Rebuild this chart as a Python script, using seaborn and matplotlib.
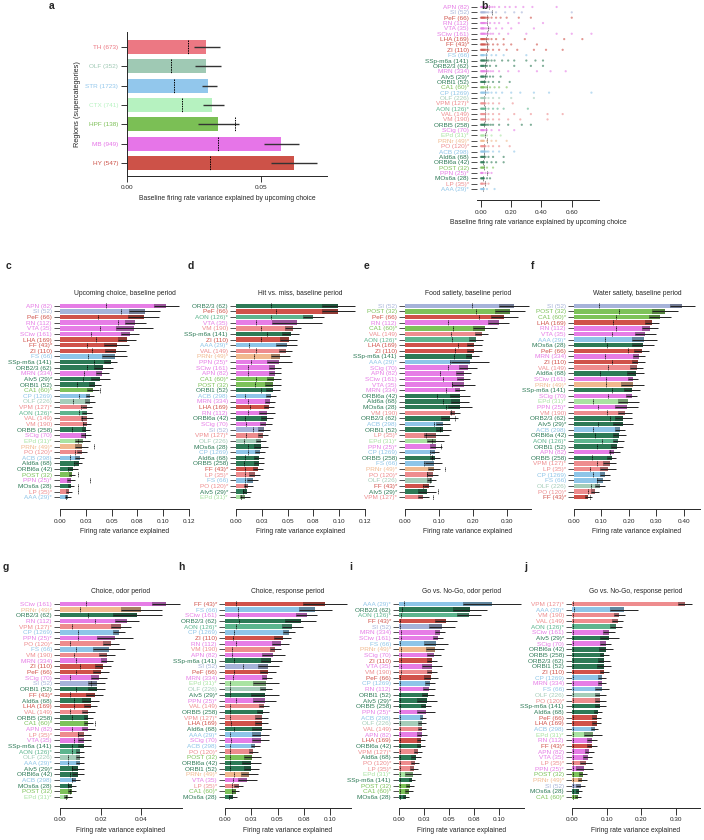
import matplotlib
matplotlib.use('Agg')
import matplotlib.pyplot as plt
import matplotlib.colors as mcolors
import seaborn as sns
import pandas as pd
import numpy as np

# ---- regions (canonical order = panel b / c order) ----
regions = ['APN', 'SI', 'PeF', 'RN', 'VTA', 'SCiw', 'LHA', 'FF', 'ZI', 'FS',
           'SSp-m6a', 'ORB2/3', 'MRN', 'AIv5', 'ORBl1', 'CA1', 'CP', 'OLF', 'VPM', 'AON',
           'VAL', 'VM', 'ORBl5', 'SCig', 'EPd', 'PRNr', 'PO', 'ACB', 'AId6a', 'ORBl6a',
           'POST', 'PPN', 'MOs6a', 'LP', 'AAA']
region_n = [82, 52, 66, 112, 35, 161, 169, 43, 110, 66,
            141, 62, 334, 29, 52, 60, 1269, 226, 127, 126,
            149, 190, 258, 70, 31, 49, 120, 298, 68, 42,
            32, 25, 28, 35, 29]
flagged = ['FF', 'AIv5', 'CA1', 'VPM', 'AON', 'EPd', 'PRNr', 'PO', 'PPN', 'LP', 'AAA']
region_group = ['MB', 'PAL', 'HY', 'MB', 'MB', 'MB', 'HY', 'HY', 'HY', 'STR',
                'CTX', 'CTX', 'MB', 'CTX', 'CTX', 'HPF', 'STR', 'OLF', 'TH', 'AON',
                'TH', 'TH', 'CTX', 'MB', 'EPD', 'PRN', 'TH', 'STR', 'CTX', 'CTX',
                'HPF', 'MB', 'CTX', 'TH', 'STR']
group_colors = {'MB': '#E67DE6', 'HY': '#D0524A', 'TH': '#EE8C8E', 'STR': '#8EC5E8',
                'PAL': '#A6B3D9', 'CTX': '#2D7A56', 'OLF': '#A5CDB9', 'AON': '#5DB58E',
                'HPF': '#7DC25A', 'EPD': '#A9E3A2', 'PRN': '#F1B98F'}

# ---- panel a ----
a_groups = ['TH', 'OLF', 'STR', 'CTX', 'HPF', 'MB', 'HY']
a_n = [673, 352, 1723, 741, 138, 949, 547]
a_val = [0.0294, 0.0295, 0.0303, 0.0316, 0.0340, 0.0573, 0.0622]
a_lo = [0.0250, 0.0252, 0.0278, 0.0282, 0.0263, 0.0511, 0.0536]
a_hi = [0.0346, 0.0349, 0.0335, 0.0362, 0.0419, 0.0641, 0.0708]
a_null = [0.0227, 0.0164, 0.0177, 0.0207, 0.0402, 0.0339, 0.0311]
a_colors = ['#EC7883', '#9FC9B4', '#92C7EC', '#B6F2C0', '#7BBF55', '#E675E8', '#CD5248']

# ---- panel b (single-neuron values, approximate) ----
b_points = [
    [0.0, 0.004, 0.008, 0.012, 0.016, 0.02, 0.025, 0.03, 0.04, 0.05, 0.06, 0.075, 0.09, 0.12, 0.16, 0.19, 0.23, 0.28, 0.34, 0.50],
    [0.0, 0.004, 0.008, 0.012, 0.016, 0.02, 0.025, 0.03, 0.04, 0.05, 0.07, 0.10, 0.16, 0.22, 0.27, 0.60],
    [0.0, 0.004, 0.008, 0.012, 0.016, 0.02, 0.025, 0.03, 0.04, 0.05, 0.07, 0.10, 0.13, 0.17, 0.25, 0.33, 0.60],
    [0.0, 0.004, 0.008, 0.012, 0.016, 0.02, 0.025, 0.03, 0.04, 0.06, 0.09, 0.12, 0.18, 0.25, 0.41],
    [0.0, 0.004, 0.008, 0.012, 0.016, 0.02, 0.03, 0.04, 0.06, 0.10, 0.14, 0.20, 0.35],
    [0.0, 0.004, 0.008, 0.012, 0.016, 0.02, 0.025, 0.03, 0.04, 0.05, 0.065, 0.08, 0.12, 0.18, 0.30, 0.50, 0.60, 0.73],
    [0.0, 0.004, 0.008, 0.012, 0.016, 0.02, 0.025, 0.03, 0.04, 0.05, 0.07, 0.10, 0.15, 0.29, 0.55, 0.67],
    [0.0, 0.004, 0.008, 0.012, 0.016, 0.02, 0.025, 0.03, 0.04, 0.05, 0.08, 0.11, 0.15, 0.20, 0.37],
    [0.0, 0.004, 0.008, 0.012, 0.016, 0.02, 0.025, 0.03, 0.04, 0.05, 0.08, 0.12, 0.17, 0.24, 0.35, 0.43, 0.54],
    [0.0, 0.004, 0.008, 0.012, 0.016, 0.02, 0.03, 0.04, 0.07, 0.10, 0.15, 0.30],
    [0.0, 0.004, 0.008, 0.012, 0.016, 0.02, 0.025, 0.03, 0.04, 0.05, 0.07, 0.09, 0.14, 0.18, 0.22, 0.30, 0.36, 0.41],
    [0.0, 0.004, 0.008, 0.012, 0.016, 0.02, 0.03, 0.04, 0.06, 0.10, 0.22, 0.33, 0.41],
    [0.0, 0.004, 0.008, 0.012, 0.016, 0.02, 0.025, 0.03, 0.04, 0.05, 0.065, 0.08, 0.12, 0.18, 0.25, 0.37, 0.46, 0.56],
    [0.0, 0.004, 0.008, 0.012, 0.016, 0.02, 0.03, 0.04, 0.06, 0.08, 0.13],
    [0.0, 0.004, 0.008, 0.012, 0.016, 0.02, 0.025, 0.03, 0.05, 0.08, 0.12, 0.19],
    [0.0, 0.004, 0.008, 0.012, 0.016, 0.02, 0.03, 0.04, 0.06, 0.09, 0.12, 0.17],
    [0.0, 0.004, 0.008, 0.012, 0.016, 0.02, 0.025, 0.03, 0.04, 0.05, 0.07, 0.10, 0.14, 0.20, 0.26, 0.35, 0.45, 0.73],
    [0.0, 0.004, 0.008, 0.012, 0.016, 0.02, 0.025, 0.03, 0.05, 0.08, 0.12, 0.20, 0.35],
    [0.0, 0.004, 0.008, 0.012, 0.016, 0.02, 0.025, 0.03, 0.05, 0.08, 0.12, 0.21],
    [0.0, 0.004, 0.008, 0.012, 0.016, 0.02, 0.025, 0.03, 0.05, 0.08, 0.11, 0.15, 0.31],
    [0.0, 0.004, 0.008, 0.012, 0.016, 0.02, 0.025, 0.03, 0.05, 0.08, 0.12, 0.22, 0.33, 0.44, 0.54],
    [0.0, 0.004, 0.008, 0.012, 0.016, 0.02, 0.025, 0.03, 0.05, 0.08, 0.12, 0.18, 0.26, 0.44],
    [0.0, 0.004, 0.008, 0.012, 0.016, 0.02, 0.025, 0.03, 0.04, 0.05, 0.065, 0.08, 0.12, 0.18, 0.27, 0.33],
    [0.0, 0.004, 0.008, 0.012, 0.016, 0.02, 0.03, 0.04, 0.07, 0.12, 0.22],
    [0.0, 0.004, 0.008, 0.012, 0.016, 0.02, 0.04, 0.07, 0.13],
    [0.0, 0.004, 0.008, 0.012, 0.016, 0.02, 0.04, 0.07, 0.10, 0.17],
    [0.0, 0.004, 0.008, 0.012, 0.016, 0.02, 0.025, 0.03, 0.05, 0.08, 0.12, 0.19],
    [0.0, 0.004, 0.008, 0.012, 0.016, 0.02, 0.025, 0.03, 0.04, 0.05, 0.08, 0.12, 0.22],
    [0.0, 0.004, 0.008, 0.012, 0.016, 0.02, 0.03, 0.05, 0.08, 0.15],
    [0.0, 0.004, 0.008, 0.012, 0.016, 0.02, 0.04, 0.07, 0.10, 0.15],
    [0.0, 0.004, 0.008, 0.012, 0.016, 0.02, 0.04, 0.08],
    [0.0, 0.004, 0.008, 0.012, 0.03, 0.05, 0.07],
    [0.0, 0.004, 0.008, 0.012, 0.016, 0.02, 0.04, 0.06],
    [0.0, 0.004, 0.008, 0.012, 0.02, 0.03, 0.05],
    [0.0, 0.004, 0.008, 0.012, 0.016, 0.02, 0.04, 0.09],
]
b_center = [0.055, 0.070, 0.042, 0.042, 0.048, 0.037, 0.033, 0.037, 0.042, 0.033,
            0.033, 0.026, 0.033, 0.026, 0.022, 0.042, 0.026, 0.020, 0.020, 0.026,
            0.026, 0.026, 0.020, 0.033, 0.026, 0.042, 0.022, 0.020, 0.020, 0.015,
            0.020, 0.037, 0.015, 0.026, 0.015]

# ---- panels c-j: value, half-width of CI, shuffle (null) level ----
c_order = regions
c_val = [0.103, 0.082, 0.081, 0.073, 0.072, 0.068, 0.065, 0.055, 0.054, 0.053,
         0.049, 0.042, 0.041, 0.039, 0.034, 0.032, 0.029, 0.029, 0.026, 0.026,
         0.026, 0.026, 0.025, 0.025, 0.022, 0.021, 0.021, 0.019, 0.018, 0.013,
         0.012, 0.011, 0.011, 0.009, 0.008]
c_err = [0.012, 0.015, 0.015, 0.010, 0.018, 0.009, 0.009, 0.012, 0.010, 0.012,
         0.006, 0.009, 0.006, 0.009, 0.006, 0.006, 0.004, 0.005, 0.005, 0.005,
         0.006, 0.004, 0.004, 0.005, 0.007, 0.006, 0.005, 0.004, 0.003, 0.004,
         0.003, 0.004, 0.003, 0.003, 0.003]
c_null = [0.045, 0.059, 0.037, 0.056, 0.039, 0.030, 0.035, 0.026, 0.031, 0.027,
          0.033, 0.026, 0.023, 0.022, 0.016, 0.039, 0.018, 0.013, 0.020, 0.018,
          0.021, 0.022, 0.012, 0.024, 0.017, 0.033, 0.015, 0.010, 0.014, 0.008,
          0.017, 0.029, 0.017, 0.017, 0.006]

d_order = ['ORB2/3', 'PeF', 'AON', 'VTA', 'VM', 'SSp-m6a', 'ZI', 'AAA', 'VAL', 'PRNr',
           'PPN', 'SCiw', 'APN', 'CA1', 'POST', 'ORBl1', 'ACB', 'MRN', 'LHA', 'RN',
           'ORBl6a', 'SCig', 'SI', 'VPM', 'OLF', 'MOs6a', 'CP', 'AId6a', 'ORBl5', 'FF',
           'LP', 'FS', 'PO', 'AIv5', 'EPd']
d_val = [0.099, 0.099, 0.075, 0.059, 0.055, 0.053, 0.051, 0.049, 0.048, 0.043,
         0.042, 0.038, 0.038, 0.037, 0.036, 0.036, 0.034, 0.033, 0.032, 0.030,
         0.030, 0.029, 0.027, 0.026, 0.024, 0.024, 0.023, 0.022, 0.022, 0.021,
         0.018, 0.016, 0.012, 0.011, 0.009]
d_err = [0.016, 0.016, 0.010, 0.024, 0.008, 0.008, 0.008, 0.010, 0.006, 0.009,
         0.012, 0.006, 0.006, 0.007, 0.008, 0.007, 0.005, 0.005, 0.005, 0.008,
         0.006, 0.006, 0.006, 0.005, 0.005, 0.007, 0.005, 0.005, 0.005, 0.005,
         0.005, 0.005, 0.004, 0.004, 0.005]
d_null = [0.034, 0.039, 0.034, 0.019, 0.024, 0.030, 0.024, 0.013, 0.019, 0.017,
          0.015, 0.012, 0.012, 0.019, 0.018, 0.024, 0.009, 0.012, 0.014, 0.012,
          0.009, 0.010, 0.016, 0.010, 0.008, 0.012, 0.012, 0.009, 0.008, 0.009,
          0.009, 0.009, 0.009, 0.007, 0.005]

e_order = ['SI', 'POST', 'PeF', 'RN', 'CA1', 'VAL', 'AON', 'LHA', 'ZI', 'SSp-m6a',
           'AAA', 'SCig', 'APN', 'SCiw', 'VTA', 'MRN', 'ORBl6a', 'AId6a', 'MOs6a', 'VM',
           'ORB2/3', 'ACB', 'ORBl1', 'LP', 'EPd', 'PPN', 'CP', 'ORBl5', 'FS', 'PRNr',
           'PO', 'OLF', 'FF', 'AIv5', 'VPM']
e_val = [0.320, 0.309, 0.292, 0.275, 0.235, 0.225, 0.208, 0.204, 0.204, 0.198,
         0.191, 0.186, 0.172, 0.172, 0.172, 0.162, 0.162, 0.162, 0.162, 0.147,
         0.132, 0.112, 0.112, 0.092, 0.090, 0.090, 0.088, 0.088, 0.085, 0.085,
         0.081, 0.078, 0.071, 0.064, 0.054]
e_err = [0.045, 0.044, 0.040, 0.030, 0.036, 0.020, 0.020, 0.022, 0.022, 0.020,
         0.055, 0.026, 0.022, 0.018, 0.035, 0.015, 0.030, 0.026, 0.035, 0.015,
         0.025, 0.020, 0.022, 0.036, 0.025, 0.018, 0.012, 0.016, 0.025, 0.017,
         0.015, 0.012, 0.015, 0.027, 0.016]
e_null = [0.196, 0.209, 0.216, 0.127, 0.142, 0.135, 0.137, 0.157, 0.147, 0.145,
          0.132, 0.125, 0.103, 0.111, 0.137, 0.121, 0.093, 0.113, 0.120, 0.135,
          0.147, 0.085, 0.103, 0.061, 0.078, 0.106, 0.074, 0.078, 0.057, 0.116,
          0.064, 0.072, 0.054, 0.096, 0.083]

f_order = ['SI', 'POST', 'CA1', 'LHA', 'RN', 'VTA', 'AAA', 'MOs6a', 'PeF', 'MRN',
           'ZI', 'VAL', 'AId6a', 'SCiw', 'PRNr', 'SSp-m6a', 'SCig', 'EPd', 'PPN', 'VM',
           'ORB2/3', 'AIv5', 'ACB', 'ORBl6a', 'AON', 'ORBl1', 'APN', 'ORBl5', 'VPM', 'LP',
           'CP', 'FS', 'OLF', 'PO', 'FF']
f_val = [0.395, 0.332, 0.314, 0.286, 0.277, 0.261, 0.257, 0.253, 0.247, 0.237,
         0.235, 0.229, 0.225, 0.216, 0.214, 0.212, 0.210, 0.198, 0.192, 0.186,
         0.180, 0.180, 0.168, 0.166, 0.162, 0.156, 0.147, 0.137, 0.131, 0.125,
         0.113, 0.107, 0.095, 0.077, 0.052]
f_err = [0.045, 0.048, 0.040, 0.025, 0.028, 0.040, 0.045, 0.040, 0.027, 0.021,
         0.024, 0.024, 0.030, 0.018, 0.042, 0.030, 0.020, 0.038, 0.042, 0.024,
         0.030, 0.036, 0.020, 0.024, 0.020, 0.022, 0.020, 0.016, 0.024, 0.030,
         0.018, 0.024, 0.018, 0.015, 0.012]
f_null = [0.092, 0.165, 0.152, 0.143, 0.152, 0.137, 0.113, 0.119, 0.198, 0.113,
          0.137, 0.123, 0.095, 0.116, 0.117, 0.137, 0.125, 0.071, 0.089, 0.119,
          0.131, 0.089, 0.071, 0.077, 0.101, 0.083, 0.131, 0.064, 0.083, 0.058,
          0.071, 0.083, 0.062, 0.052, 0.058]

g_order = ['SCiw', 'PRNr', 'ORB2/3', 'RN', 'VPM', 'CP', 'PPN', 'PO', 'FS', 'VM',
           'MRN', 'ZI', 'PeF', 'SCig', 'SI', 'ORBl1', 'FF', 'AId6a', 'LHA', 'VAL',
           'ORBl5', 'CA1', 'APN', 'LP', 'VTA', 'SSp-m6a', 'AON', 'OLF', 'AAA', 'AIv5',
           'ORBl6a', 'ACB', 'MOs6a', 'POST', 'EPd']
g_val = [0.052, 0.040, 0.038, 0.033, 0.030, 0.029, 0.027, 0.025, 0.024, 0.023,
         0.023, 0.021, 0.020, 0.019, 0.018, 0.018, 0.017, 0.015, 0.015, 0.014,
         0.014, 0.014, 0.014, 0.012, 0.012, 0.012, 0.010, 0.010, 0.010, 0.009,
         0.009, 0.008, 0.006, 0.006, 0.004]
g_err = [0.007, 0.010, 0.012, 0.006, 0.005, 0.003, 0.009, 0.004, 0.008, 0.004,
         0.003, 0.004, 0.004, 0.004, 0.004, 0.004, 0.004, 0.004, 0.003, 0.003,
         0.002, 0.002, 0.003, 0.003, 0.003, 0.003, 0.002, 0.002, 0.002, 0.003,
         0.003, 0.002, 0.002, 0.002, 0.002]
g_null = [0.013, 0.010, 0.014, 0.017, 0.006, 0.009, 0.009, 0.005, 0.008, 0.007,
          0.008, 0.010, 0.008, 0.005, 0.015, 0.008, 0.005, 0.007, 0.007, 0.005,
          0.006, 0.017, 0.006, 0.009, 0.007, 0.006, 0.006, 0.004, 0.004, 0.006,
          0.005, 0.006, 0.004, 0.005, 0.003]

h_order = ['FF', 'FS', 'SCiw', 'ORB2/3', 'AON', 'CP', 'ZI', 'RN', 'VM', 'APN',
           'SSp-m6a', 'SI', 'PeF', 'MRN', 'EPd', 'OLF', 'AIv5', 'PPN', 'VAL', 'ORBl5',
           'VPM', 'LHA', 'AId6a', 'AAA', 'SCig', 'ACB', 'PO', 'POST', 'ORBl6a', 'ORBl1',
           'PRNr', 'VTA', 'LP', 'CA1', 'MOs6a']
h_val = [0.095, 0.086, 0.078, 0.072, 0.064, 0.061, 0.055, 0.053, 0.048, 0.046,
         0.044, 0.041, 0.041, 0.040, 0.039, 0.039, 0.038, 0.038, 0.037, 0.036,
         0.035, 0.035, 0.035, 0.034, 0.034, 0.029, 0.027, 0.026, 0.025, 0.025,
         0.023, 0.021, 0.013, 0.010, 0.008]
h_err = [0.021, 0.016, 0.010, 0.015, 0.010, 0.006, 0.008, 0.008, 0.005, 0.011,
         0.010, 0.010, 0.008, 0.005, 0.012, 0.006, 0.013, 0.011, 0.005, 0.006,
         0.006, 0.006, 0.009, 0.008, 0.008, 0.004, 0.004, 0.008, 0.009, 0.007,
         0.008, 0.009, 0.004, 0.003, 0.003]
h_null = [0.010, 0.012, 0.012, 0.013, 0.010, 0.009, 0.008, 0.010, 0.007, 0.007,
          0.009, 0.017, 0.009, 0.008, 0.005, 0.005, 0.005, 0.010, 0.005, 0.005,
          0.005, 0.006, 0.009, 0.005, 0.006, 0.005, 0.005, 0.005, 0.005, 0.005,
          0.009, 0.008, 0.007, 0.007, 0.004]

i_order = ['AAA', 'ORB2/3', 'AON', 'FF', 'SI', 'MRN', 'SCiw', 'FS', 'PRNr', 'SCig',
           'ZI', 'VTA', 'VM', 'PeF', 'CP', 'RN', 'ORBl1', 'AIv5', 'ORBl5', 'PPN',
           'ACB', 'OLF', 'VAL', 'APN', 'LHA', 'ORBl6a', 'VPM', 'AId6a', 'PO', 'LP',
           'EPd', 'SSp-m6a', 'POST', 'CA1', 'MOs6a']
i_val = [0.093, 0.071, 0.070, 0.047, 0.043, 0.041, 0.039, 0.037, 0.036, 0.035,
         0.033, 0.033, 0.033, 0.032, 0.031, 0.030, 0.029, 0.028, 0.027, 0.027,
         0.024, 0.023, 0.023, 0.023, 0.022, 0.022, 0.019, 0.017, 0.016, 0.015,
         0.014, 0.013, 0.011, 0.010, 0.007]
i_err = [0.029, 0.017, 0.012, 0.011, 0.013, 0.005, 0.005, 0.012, 0.009, 0.007,
         0.005, 0.010, 0.005, 0.007, 0.005, 0.006, 0.006, 0.010, 0.005, 0.009,
         0.003, 0.004, 0.004, 0.005, 0.004, 0.004, 0.004, 0.005, 0.004, 0.004,
         0.008, 0.003, 0.004, 0.004, 0.003]
i_null = [0.005, 0.003, 0.002, 0.001, 0.001, 0.002, 0.002, 0.001, 0.002, 0.002,
          0.002, 0.002, 0.002, 0.001, 0.001, 0.001, 0.001, 0.001, 0.001, 0.001,
          0.001, 0.001, 0.001, 0.001, 0.001, 0.001, 0.001, 0.001, 0.001, 0.001,
          0.001, 0.001, 0.001, 0.001, 0.001]

j_order = ['VPM', 'AAA', 'VM', 'VAL', 'AON', 'SCiw', 'AIv5', 'SCig', 'ORBl6a', 'ORBl5',
           'ORB2/3', 'ORBl1', 'ZI', 'CP', 'MRN', 'FS', 'OLF', 'PO', 'SSp-m6a', 'AId6a',
           'PeF', 'LHA', 'ACB', 'EPd', 'RN', 'FF', 'APN', 'VTA', 'LP', 'PPN',
           'POST', 'PRNr', 'SI', 'MOs6a', 'CA1']
j_val = [0.326, 0.151, 0.137, 0.132, 0.127, 0.108, 0.108, 0.098, 0.098, 0.093,
         0.093, 0.093, 0.093, 0.086, 0.086, 0.086, 0.082, 0.082, 0.082, 0.076,
         0.072, 0.072, 0.066, 0.060, 0.057, 0.057, 0.050, 0.045, 0.040, 0.036,
         0.031, 0.029, 0.026, 0.021, 0.018]
j_err = [0.020, 0.040, 0.016, 0.015, 0.017, 0.017, 0.027, 0.016, 0.020, 0.013,
         0.018, 0.020, 0.013, 0.012, 0.012, 0.020, 0.015, 0.015, 0.015, 0.012,
         0.013, 0.013, 0.010, 0.026, 0.014, 0.015, 0.013, 0.014, 0.018, 0.024,
         0.012, 0.013, 0.013, 0.009, 0.009]
j_null = [0.004, 0.005, 0.003, 0.003, 0.003, 0.003, 0.003, 0.003, 0.003, 0.003,
          0.003, 0.003, 0.003, 0.003, 0.003, 0.003, 0.003, 0.003, 0.003, 0.003,
          0.003, 0.003, 0.003, 0.003, 0.003, 0.003, 0.003, 0.003, 0.003, 0.003,
          0.003, 0.003, 0.003, 0.003, 0.003]

tick_025 = [0, 0.025, 0.05, 0.075, 0.1, 0.125]
tick_025_labels = ['0.00', '0.03', '0.05', '0.08', '0.10', '0.12']

# ---------------------------------------------------------------
sns.set_theme(style='ticks')
plt.rcParams['font.family'] = ['Liberation Sans', 'DejaVu Sans']
plt.rcParams['axes.linewidth'] = 0.7

W, H = 704, 840
fig = plt.figure(figsize=(W / 100, H / 100), dpi=100)

label_of = {r: f"{r} ({n})" + ('*' if r in flagged else '') for r, n in zip(regions, region_n)}
color_of = {r: group_colors[g] for r, g in zip(regions, region_group)}
FS_LAB = 4.6


def px_axes(l, t, w, h):
    return fig.add_axes([l / W, 1 - (t + h) / H, w / W, h / H])


def darker(c, f=0.68):
    return tuple(np.array(mcolors.to_rgb(c)) * f)


def style_axes(ax, xmax, ticks, ticklabels, offset, xlim_lo=0, ylab=FS_LAB):
    ax.set_xlim(xlim_lo, xmax)
    ax.set_xticks(ticks)
    ax.set_xticklabels(ticklabels)
    for s in ['top', 'right', 'left']:
        ax.spines[s].set_visible(False)
    ax.spines['bottom'].set_position(('outward', offset))
    ax.tick_params(axis='y', length=4.3, width=0.6, pad=1.5, labelsize=ylab, color='#333333')
    ax.tick_params(axis='x', length=5, width=0.7, pad=2, labelsize=FS_LAB, color='#333333')
    ax.set_ylabel('')


def bar_panel(ax, order, val, err, null, title, xmax, ticks, ticklabels, offset):
    df = pd.DataFrame({'region': order, 'val': val, 'err': err, 'null': null})
    df['label'] = [label_of[r] for r in order]
    pal = {label_of[r]: color_of[r] for r in order}
    sns.barplot(data=df, x='val', y='label', hue='label', palette=pal, order=list(df['label']),
                width=0.8, saturation=1, errorbar=None, legend=False, linewidth=0, ax=ax)
    y = np.arange(len(df))
    lo = df['val'] - df['err']
    ax.barh(y, df['err'], left=lo, height=0.8,
            color=[darker(color_of[r]) for r in order], linewidth=0)
    ax.hlines(y, lo, df['val'] + df['err'], color='#222222', lw=0.7)
    ax.vlines(df['null'], y - 0.42, y + 0.42, color='black', lw=0.6,
              linestyles=(0, (1.2, 0.7)))
    ax.set_ylim(len(df) - 0.5, -0.5)
    style_axes(ax, xmax, ticks, ticklabels, offset)
    for tl, r in zip(ax.get_yticklabels(), order):
        tl.set_color(color_of[r])
    ax.set_title(title, fontsize=4.9, pad=6)
    ax.set_xlabel('Firing rate variance explained', fontsize=4.9, labelpad=3)


# ---- panel a ----
ax = px_axes(127, 32, 200, 144)
a_labels = [f"{g} ({n})" for g, n in zip(a_groups, a_n)]
dfa = pd.DataFrame({'label': a_labels, 'val': a_val, 'lo': a_lo, 'hi': a_hi, 'null': a_null})
sns.barplot(data=dfa, x='val', y='label', hue='label', palette=dict(zip(a_labels, a_colors)),
            order=a_labels, width=0.72, saturation=1, errorbar=None, legend=False,
            linewidth=0, ax=ax)
ya = np.arange(len(dfa))
ax.hlines(ya, dfa['lo'], dfa['hi'], color='#333333', lw=1.0)
ax.vlines(dfa['null'], ya - 0.36, ya + 0.36, color='black', lw=0.7, linestyles=(0, (1.5, 1)))
ax.set_ylim(6.67, -0.78)
ax.set_xlim(0, 0.0746)
ax.set_xticks([0, 0.05])
ax.set_xticklabels(['0.00', '0.05'])
sns.despine(ax=ax)
ax.tick_params(axis='both', length=4.3, width=0.7, pad=2, labelsize=FS_LAB, color='#333333')
for tl, c in zip(ax.get_yticklabels(), a_colors):
    tl.set_color(c)
ax.set_ylabel('Regions (supercategories)', fontsize=5.3, labelpad=3)
ax.set_xlabel('Baseline firing rate variance explained by upcoming choice', fontsize=4.9, labelpad=4)

# ---- panel b ----
ax = px_axes(477, 4.3, 122, 187.4)
b_labels = [label_of[r] for r in regions]
dfb = pd.DataFrame({'label': [label_of[r] for r, pts in zip(regions, b_points) for _ in pts],
                    'value': [v for pts in b_points for v in pts]})
sns.stripplot(data=dfb, x='value', y='label', hue='label', order=b_labels,
              palette={label_of[r]: color_of[r] for r in regions}, jitter=False,
              size=1.6, alpha=0.6, linewidth=0, legend=False, ax=ax)
yb = np.arange(len(regions))
ax.vlines(b_center, yb - 0.45, yb + 0.45, color='#333333', lw=0.6, linestyles=(0, (1.2, 0.7)))
ax.set_ylim(len(regions) - 0.5, -0.5)
style_axes(ax, 0.78, [0, 0.2, 0.4, 0.6], ['0.00', '0.20', '0.40', '0.60'], 6,
           xlim_lo=-0.026, ylab=4.6)
for tl, r in zip(ax.get_yticklabels(), regions):
    tl.set_color(color_of[r])
ax.set_xlabel('Baseline firing rate variance explained by upcoming choice', fontsize=4.9, labelpad=3)

# ---- panels c-j ----
bar_panel(px_axes(60, 303, 129, 197), c_order, c_val, c_err, c_null,
          'Upcoming choice, baseline period', 0.125, tick_025, tick_025_labels, 6.5)
bar_panel(px_axes(236, 303, 129, 197), d_order, d_val, d_err, d_null,
          'Hit vs. miss, baseline period', 0.125, tick_025, tick_025_labels, 6.5)
bar_panel(px_axes(405, 303, 126, 197), e_order, e_val, e_err, e_null,
          'Food satiety, baseline period', 0.37, [0, 0.1, 0.2, 0.3],
          ['0.00', '0.10', '0.20', '0.30'], 6.5)
bar_panel(px_axes(574, 303, 126, 197), f_order, f_val, f_err, f_null,
          'Water satiety, baseline period', 0.46, [0, 0.1, 0.2, 0.3, 0.4],
          ['0.00', '0.10', '0.20', '0.30', '0.40'], 6.5)
bar_panel(px_axes(60, 601, 122, 199), g_order, g_val, g_err, g_null,
          'Choice, odor period', 0.06, [0, 0.02, 0.04], ['0.00', '0.02', '0.04'], 5.5)
bar_panel(px_axes(225, 601, 126, 199), h_order, h_val, h_err, h_null,
          'Choice, response period', 0.12, tick_025[:5], tick_025_labels[:5], 5.5)
bar_panel(px_axes(399, 601, 125, 199), i_order, i_val, i_err, i_null,
          'Go vs. No-Go, odor period', 0.125, tick_025[:5], tick_025_labels[:5], 5.5)
bar_panel(px_axes(572, 601, 128, 199), j_order, j_val, j_err, j_null,
          'Go vs. No-Go, response period', 0.37, [0, 0.1, 0.2, 0.3],
          ['0.00', '0.10', '0.20', '0.30'], 5.5)

# panel letters
letters = ['a', 'b', 'c', 'd', 'e', 'f', 'g', 'h', 'i', 'j']
letter_xy = [(49, 1), (481, 1), (6, 261), (188, 261), (364, 261), (531, 261),
             (3, 562), (178, 562), (349, 562), (524, 562)]
for t, (x, y) in zip(letters, letter_xy):
    fig.text(x / W, 1 - y / H, t, fontsize=7.5, fontweight='bold', va='top', ha='left')

fig.savefig('out.png', dpi=100)
